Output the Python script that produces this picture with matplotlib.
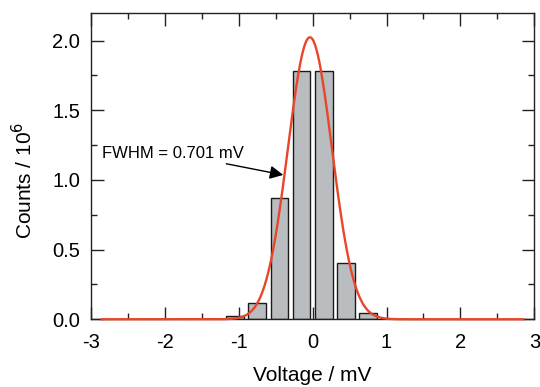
"""Histogram of voltage noise with a Gaussian fit."""
import numpy as np
import matplotlib
matplotlib.use("Agg")
import matplotlib.pyplot as plt
from matplotlib.ticker import MultipleLocator

plt.rcParams['font.family'] = ['Liberation Sans', 'DejaVu Sans']
plt.rcParams['axes.unicode_minus'] = False

# histogram bins (mV) and counts (in 10^6)
bin_centers = [-1.05, -0.75, -0.45, -0.15, 0.15, 0.45, 0.75]
bin_counts = [0.022, 0.115, 0.869, 1.783, 1.783, 0.407, 0.047]
bar_width = 0.24

# gaussian fit
fit_amplitude = 2.024
fit_center = -0.037
fit_fwhm = 0.701
fit_range = [-2.855, 2.85]

fwhm_label = "FWHM = 0.701 mV"

fig = plt.figure(figsize=(5.4, 3.87), dpi=100)
ax = fig.add_axes([0.1685, 0.175, 0.821, 0.792])

ax.bar(bin_centers, bin_counts, width=bar_width, color="#b9bdbf",
       edgecolor="#1a1a1a", linewidth=1.0, zorder=2)

sigma = fit_fwhm / (2 * np.sqrt(2 * np.log(2)))
x_fit = np.linspace(fit_range[0], fit_range[1], 600)
y_fit = fit_amplitude * np.exp(-0.5 * ((x_fit - fit_center) / sigma) ** 2)
ax.plot(x_fit, y_fit, color="#e9452a", linewidth=1.7, zorder=3, clip_on=False)

ax.annotate(fwhm_label, xy=(-0.398, 1.036), xytext=(-2.856, 1.192),
            fontsize=12, va="center", ha="left",
            arrowprops=dict(arrowstyle="-|>", color="black", lw=1.0,
                            mutation_scale=20, shrinkA=1, shrinkB=0))

ax.set_xlim(-3, 3)
ax.set_ylim(0, 2.2)
ax.xaxis.set_major_locator(MultipleLocator(1))
ax.xaxis.set_minor_locator(MultipleLocator(0.5))
ax.yaxis.set_major_locator(MultipleLocator(0.5))
ax.yaxis.set_minor_locator(MultipleLocator(0.25))
ax.yaxis.set_major_formatter(plt.FormatStrFormatter("%.1f"))
ax.tick_params(which="both", direction="in", top=True, right=True,
               labelsize=14.5, width=1.0, color="#222222")
ax.tick_params(which="major", length=9)
ax.tick_params(which="minor", length=4.5)
ax.tick_params(axis="x", which="major", pad=10)
ax.tick_params(axis="y", which="major", pad=8)
for spine in ax.spines.values():
    spine.set_linewidth(1.0)
    spine.set_color("#222222")

ax.set_xlabel("Voltage / mV", fontsize=15, labelpad=10)
ax.set_ylabel("Counts / 10$^6$", fontsize=15)
ax.yaxis.set_label_coords(-0.123, 0.453)

fig.savefig("out.png", dpi=100, facecolor="white")
